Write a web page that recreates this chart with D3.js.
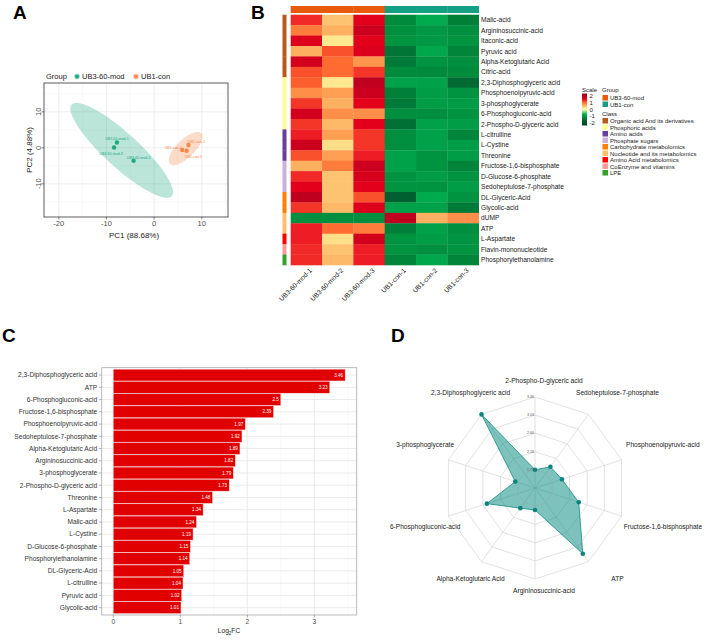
<!DOCTYPE html>
<meta charset="utf-8">
<script src="https://d3js.org/d3.v7.min.js"></script>
<style>
  body { margin: 0; background: #fff; }
  text { font-family: "Liberation Sans", Arial, Helvetica, sans-serif; }
</style>
<body>
<svg id="fig" width="710" height="640"></svg>
<script>

// ---------- data ----------
// A: PCA scores
const pcaGroups = ["UB3-60-mod", "UB1-con"];
const pcaSamples = ["UB3-60-mod-1", "UB3-60-mod-2", "UB3-60-mod-3", "UB1-con-1", "UB1-con-2", "UB1-con-3"];
const pcaSampleGroup = [0, 0, 0, 1, 1, 1];
const pc1 = [-7.8, -4.3, -8.4, 7.2, 5.9, 6.8];
const pc2 = [1.5, -3.6, 0.1, 0.8, -0.6, -0.8];
// confidence ellipses: centre, first and second semi-axis (data units)
const ellCenter = [[-6.8, -0.7], [6.6, -0.2]];
const ellAxisA = [[-10.5, 12.7], [3.3, 4.25]];
const ellAxisB = [[2.4, 3.5], [1.3, -1.8]];

// B: heatmap (row z-scores)
const heatSamples = ["UB3-60-mod-1", "UB3-60-mod-2", "UB3-60-mod-3", "UB1-con-1", "UB1-con-2", "UB1-con-3"];
const heatSampleGroup = [0, 0, 0, 1, 1, 1];
const metabolites = ["Malic-acid", "Argininosuccinic-acid", "Itaconic-acid", "Pyruvic acid", "Alpha-Ketoglutaric Acid",
  "Citric-acid", "2,3-Diphosphoglyceric acid", "Phosphoenolpyruvic-acid", "3-phosphoglycerate", "6-Phosphogluconic-acid",
  "2-Phospho-D-glyceric acid", "L-citrulline", "L-Cystine", "Threonine", "Fructose-1,6-bisphosphate",
  "D-Glucose-6-phosphate", "Sedoheptulose-7-phosphate", "DL-Glyceric-Acid", "Glycolic-acid", "dUMP", "ATP",
  "L-Aspartate", "Flavin-mononucleotide", "Phosphorylethanolamine"];
const zScores = [
  [1.15, 0.4, 1.3, -1.0, -0.65, -1.1],
  [0.8, 0.5, 1.5, -0.95, -0.85, -0.95],
  [1.35, 0.2, 1.3, -0.9, -0.85, -0.9],
  [0.5, 1.0, 1.35, -1.2, -0.7, -1.05],
  [1.45, 0.9, 0.65, -1.15, -0.9, -0.95],
  [1.0, 0.9, 1.1, -1.0, -1.0, -1.0],
  [0.95, 0.2, 1.6, -0.75, -0.75, -1.3],
  [0.7, 0.6, 1.5, -1.1, -0.8, -0.9],
  [1.1, 0.5, 1.3, -1.15, -0.8, -0.8],
  [1.45, 0.7, 0.7, -0.95, -0.95, -0.9],
  [1.1, 0.45, 1.3, -1.25, -0.75, -0.8],
  [1.2, 0.6, 1.1, -0.95, -0.75, -1.05],
  [1.5, 0.25, 1.1, -0.95, -0.75, -0.8],
  [1.0, 0.6, 1.2, -0.75, -0.9, -0.8],
  [0.5, 0.8, 1.5, -0.75, -0.9, -1.05],
  [1.15, 0.4, 1.4, -0.9, -0.8, -0.9],
  [1.3, 0.4, 1.3, -0.9, -0.9, -0.8],
  [1.6, 0.4, 1.0, -1.4, -0.65, -0.9],
  [1.1, 0.45, 1.35, -0.75, -0.75, -1.15],
  [-0.95, -0.95, -0.95, 1.6, 0.5, 0.7],
  [1.2, 0.9, 0.8, -1.1, -0.75, -0.95],
  [1.2, 0.25, 1.45, -0.9, -0.8, -0.9],
  [1.15, 0.4, 1.2, -0.9, -0.95, -0.9],
  [1.15, 0.45, 1.2, -1.05, -0.7, -1.05]
];
const classNames = ["Organic acid And its derivatives", "Phosphoric acids", "Amino acids", "Phosphate sugars",
  "Carbohydrate metabolomics", "Nucleotide and its metabolomics", "Amino Acid metabolomics",
  "CoEnzyme and vitamins", "LPE"];
const metaboliteClass = [0, 0, 0, 0, 0, 0, 1, 1, 1, 1, 1, 2, 2, 2, 3, 3, 3, 4, 4, 5, 5, 6, 7, 8];
const scaleTicks = [2, 1, 0, -1, -2];

// C: log2 fold change
const fcNames = ["2,3-Diphosphoglyceric acid", "ATP", "6-Phosphogluconic-acid", "Fructose-1,6-bisphosphate",
  "Phosphoenolpyruvic-acid", "Sedoheptulose-7-phosphate", "Alpha-Ketoglutaric Acid", "Argininosuccinic-acid",
  "3-phosphoglycerate", "2-Phospho-D-glyceric acid", "Threonine", "L-Aspartate", "Malic-acid", "L-Cystine",
  "D-Glucose-6-phosphate", "Phosphorylethanolamine", "DL-Glyceric-Acid", "L-citrulline", "Pyruvic acid", "Glycolic-acid"];
const fcValues = [3.46, 3.23, 2.5, 2.39, 1.97, 1.92, 1.89, 1.82, 1.79, 1.73, 1.48, 1.34, 1.24, 1.19, 1.15, 1.14,
  1.05, 1.04, 1.02, 1.01];
const fcTicks = [0, 1, 2, 3];

// D: radar (clockwise from top)
const radarNames = ["2-Phospho-D-glyceric acid", "Sedoheptulose-7-phosphate", "Phosphoenolpyruvic-acid",
  "Fructose-1,6-bisphosphate", "ATP", "Argininosuccinic-acid", "Alpha-Ketoglutaric Acid",
  "6-Phosphogluconic-acid", "3-phosphoglycerate", "2,3-Diphosphoglyceric acid"];
const radarValues = [1.73, 1.92, 1.97, 2.39, 3.23, 1.82, 1.89, 2.5, 1.79, 3.46];
const radarTicks = [1.73, 2.16, 2.60, 3.03, 3.46];

// ---------- drawing ----------
const svg = d3.select("#fig");
const txt = "#1a1a1a";

// panel letters
[["A", 13, 19], ["B", 251, 19], ["C", 2, 342], ["D", 391, 342]].forEach(function(p) {
  svg.append("text").attr("x", p[1]).attr("y", p[2]).text(p[0])
    .attr("font-size", 19).attr("font-weight", "bold").attr("fill", "#000");
});

// ===== A: PCA =====
const pcaCol = ["#1fa982", "#f5884a"];
const gA = svg.append("g");
const ax = d3.scaleLinear().domain([-23.1, 15.5]).range([44, 228]);
const ay = d3.scaleLinear().domain([-19.2, 18]).range([217, 83]);

[-15, -5, 5, 15].forEach(function(v) {
  gA.append("line").attr("x1", ax(v)).attr("x2", ax(v)).attr("y1", 83).attr("y2", 217)
    .attr("stroke", "#f3f3f3").attr("stroke-width", 0.5);
  gA.append("line").attr("y1", ay(v)).attr("y2", ay(v)).attr("x1", 44).attr("x2", 228)
    .attr("stroke", "#f3f3f3").attr("stroke-width", 0.5);
});
[-20, -10, 0, 10].forEach(function(v) {
  gA.append("line").attr("x1", ax(v)).attr("x2", ax(v)).attr("y1", 83).attr("y2", 217)
    .attr("stroke", "#e6e6e6").attr("stroke-width", 0.7);
});
[-10, 0, 10].forEach(function(v) {
  gA.append("line").attr("y1", ay(v)).attr("y2", ay(v)).attr("x1", 44).attr("x2", 228)
    .attr("stroke", "#e6e6e6").attr("stroke-width", 0.7);
});

// ellipses
pcaGroups.forEach(function(g, i) {
  const c = ellCenter[i], u = ellAxisA[i], v = ellAxisB[i];
  const pts = d3.range(0, 2 * Math.PI, Math.PI / 60).map(function(t) {
    return [ax(c[0] + u[0] * Math.cos(t) + v[0] * Math.sin(t)), ay(c[1] + u[1] * Math.cos(t) + v[1] * Math.sin(t))];
  });
  gA.append("path").attr("d", d3.line().curve(d3.curveLinearClosed)(pts))
    .attr("fill", pcaCol[i]).attr("fill-opacity", 0.3).attr("stroke", "none");
});

// points + labels
const pcaNudge = [[0, -4], [5, -3.5], [-3, 6], [8, -3], [-9, -2.5], [7, 6]];
pcaSamples.forEach(function(s, i) {
  const col = pcaCol[pcaSampleGroup[i]];
  gA.append("circle").attr("cx", ax(pc1[i])).attr("cy", ay(pc2[i])).attr("r", 2.2).attr("fill", col);
  gA.append("text").attr("x", ax(pc1[i]) + pcaNudge[i][0]).attr("y", ay(pc2[i]) + pcaNudge[i][1] + 1.2)
    .attr("text-anchor", "middle").attr("font-size", 3.6).attr("fill", col).text(s);
});

gA.append("rect").attr("x", 44).attr("y", 83).attr("width", 184).attr("height", 134)
  .attr("fill", "none").attr("stroke", "#333").attr("stroke-width", 0.8);

// axes
[-20, -10, 0, 10].forEach(function(v) {
  gA.append("line").attr("x1", ax(v)).attr("x2", ax(v)).attr("y1", 217).attr("y2", 219.5).attr("stroke", "#333").attr("stroke-width", 0.6);
  gA.append("text").attr("x", ax(v)).attr("y", 226).attr("text-anchor", "middle")
    .attr("font-size", 7.5).attr("fill", "#4d4d4d").text(v);
});
[-10, 0, 10].forEach(function(v) {
  gA.append("line").attr("x1", 41.5).attr("x2", 44).attr("y1", ay(v)).attr("y2", ay(v)).attr("stroke", "#333").attr("stroke-width", 0.6);
  gA.append("text").attr("transform", "translate(40.5," + ay(v) + ") rotate(-90)").attr("text-anchor", "middle")
    .attr("font-size", 7.5).attr("fill", "#4d4d4d").text(v);
});
gA.append("text").attr("x", 134).attr("y", 238).attr("text-anchor", "middle").attr("font-size", 8)
  .attr("fill", txt).text("PC1 (88.68%)");
gA.append("text").attr("transform", "translate(32,150) rotate(-90)").attr("text-anchor", "middle").attr("font-size", 8)
  .attr("fill", txt).text("PC2 (4.88%)");

// legend
gA.append("text").attr("x", 46).attr("y", 79).attr("font-size", 7.5).attr("fill", txt).text("Group");
const legX = [77, 136];
pcaGroups.forEach(function(g, i) {
  gA.append("circle").attr("cx", legX[i]).attr("cy", 76.5).attr("r", 3).attr("fill", pcaCol[i]).attr("fill-opacity", 0.35);
  gA.append("circle").attr("cx", legX[i]).attr("cy", 76.5).attr("r", 2).attr("fill", pcaCol[i]);
  gA.append("text").attr("x", legX[i] + 5).attr("y", 79).attr("font-size", 7.5).attr("fill", txt).text(g);
});

// ===== B: heatmap =====
const gB = svg.append("g");
const heatStops = [-2, -1.4, -1, -0.6, 0, 0.2, 0.5, 0.9, 1.2, 1.3, 1.6, 2];
const heatColors = ["#00441b", "#006030", "#008a3c", "#00b050", "#ffffb2", "#fee890", "#fdb060", "#ff6b30",
  "#ee1c25", "#e3001b", "#c0001f", "#99001f"];
const heatColor = d3.scaleLinear().domain(heatStops).range(heatColors).clamp(true);
const groupCol = ["#e8590c", "#13a085"];
const classCol = ["#b85a1f", "#ffff99", "#6a3d9a", "#cab2d6", "#ff7f00", "#fdbf6f", "#ff0000", "#fb9a99", "#33a02c"];

const hx = d3.scaleBand().domain(heatSamples).range([290.7, 478.7]);
const hy = d3.scaleBand().domain(metabolites).range([14.7, 265]);

metabolites.forEach(function(m, r) {
  heatSamples.forEach(function(s, c) {
    gB.append("rect").attr("x", hx(s)).attr("y", hy(m)).attr("width", hx.bandwidth() + 0.3).attr("height", hy.bandwidth() + 0.3)
      .attr("fill", heatColor(zScores[r][c]));
  });
  gB.append("rect").attr("x", 282.5).attr("y", hy(m)).attr("width", 4).attr("height", hy.bandwidth() + 0.3)
    .attr("fill", classCol[metaboliteClass[r]]);
  gB.append("text").attr("x", 481).attr("y", hy(m) + hy.bandwidth() / 2 + 2.3).attr("font-size", 6.6)
    .attr("fill", txt).text(m);
});
heatSamples.forEach(function(s, c) {
  gB.append("rect").attr("x", hx(s)).attr("y", 6).attr("width", hx.bandwidth() + 0.3).attr("height", 7)
    .attr("fill", groupCol[heatSampleGroup[c]]);
  const cx = hx(s) + hx.bandwidth() / 2 + 6;
  gB.append("text").attr("transform", "translate(" + cx + ",271) rotate(-45)").attr("text-anchor", "end")
    .attr("font-size", 6.6).attr("fill", txt).text(s);
});

// heatmap legend
const defs = svg.append("defs");
const grad = defs.append("linearGradient").attr("id", "hgrad").attr("x1", 0).attr("x2", 0).attr("y1", 0).attr("y2", 1);
heatStops.slice().reverse().forEach(function(v) {
  grad.append("stop").attr("offset", (2 - v) / 4).attr("stop-color", heatColor(v));
});
gB.append("text").attr("x", 582).attr("y", 92).attr("font-size", 6).attr("fill", txt).text("Scale");
gB.append("text").attr("x", 602).attr("y", 92).attr("font-size", 6).attr("fill", txt).text("Group");
const sy = d3.scaleLinear().domain([2, -2]).range([96, 123]);
gB.append("rect").attr("x", 582).attr("y", 93.5).attr("width", 5).attr("height", 32).attr("fill", "url(#hgrad)");
scaleTicks.forEach(function(v) {
  gB.append("text").attr("x", 589.5).attr("y", sy(v) + 2).attr("font-size", 6).attr("fill", txt).text(v);
});
pcaGroups.forEach(function(g, i) {
  gB.append("rect").attr("x", 602.5).attr("y", 95 + i * 6.5).attr("width", 5.5).attr("height", 5.5).attr("fill", groupCol[i]);
  gB.append("text").attr("x", 610).attr("y", 100 + i * 6.5).attr("font-size", 6).attr("fill", txt).text(g);
});
gB.append("text").attr("x", 602).attr("y", 116).attr("font-size", 6).attr("fill", txt).text("Class");
classNames.forEach(function(c, i) {
  gB.append("rect").attr("x", 602.5).attr("y", 118 + i * 6.5).attr("width", 5.5).attr("height", 5.5).attr("fill", classCol[i]);
  gB.append("text").attr("x", 610).attr("y", 123 + i * 6.5).attr("font-size", 6).attr("fill", txt).text(c);
});

// ===== C: bar chart =====
const gC = svg.append("g");
const cx0 = 101.7, cx1 = 356.7, cy0 = 367.7, cy1 = 615;
const bx = d3.scaleLinear().domain([-0.173, 3.633]).range([cx0, cx1]);
const by = d3.scaleBand().domain(fcNames).range([cy0 + 1.5, cy1 - 1.5]).paddingInner(0.04);

[0.5, 1.5, 2.5, 3.5].forEach(function(v) {
  gC.append("line").attr("x1", bx(v)).attr("x2", bx(v)).attr("y1", cy0).attr("y2", cy1).attr("stroke", "#f2f2f2").attr("stroke-width", 0.5);
});
fcTicks.forEach(function(v) {
  gC.append("line").attr("x1", bx(v)).attr("x2", bx(v)).attr("y1", cy0).attr("y2", cy1).attr("stroke", "#e6e6e6").attr("stroke-width", 0.8);
});
fcNames.forEach(function(n) {
  gC.append("line").attr("x1", cx0).attr("x2", cx1).attr("y1", by(n) + by.bandwidth() / 2).attr("y2", by(n) + by.bandwidth() / 2)
    .attr("stroke", "#e6e6e6").attr("stroke-width", 0.8);
});

fcNames.forEach(function(n, i) {
  gC.append("rect").attr("x", bx(0)).attr("y", by(n)).attr("width", bx(fcValues[i]) - bx(0)).attr("height", by.bandwidth())
    .attr("fill", "#e10000").attr("stroke", "#f6d6d6").attr("stroke-width", 0.4);
  gC.append("text").attr("x", bx(fcValues[i]) - 2).attr("y", by(n) + by.bandwidth() / 2 + 1.6).attr("text-anchor", "end")
    .attr("font-size", 4.6).attr("fill", "#fff").text(fcValues[i]);
  gC.append("line").attr("x1", cx0 - 2.5).attr("x2", cx0).attr("y1", by(n) + by.bandwidth() / 2).attr("y2", by(n) + by.bandwidth() / 2)
    .attr("stroke", "#555").attr("stroke-width", 0.5);
  gC.append("text").attr("x", cx0 - 4.5).attr("y", by(n) + by.bandwidth() / 2 + 2.3).attr("text-anchor", "end")
    .attr("font-size", 6.6).attr("fill", "#333").text(n);
});

gC.append("rect").attr("x", cx0).attr("y", cy0).attr("width", cx1 - cx0).attr("height", cy1 - cy0)
  .attr("fill", "none").attr("stroke", "#aaa").attr("stroke-width", 0.8);
fcTicks.forEach(function(v) {
  gC.append("line").attr("x1", bx(v)).attr("x2", bx(v)).attr("y1", cy1).attr("y2", cy1 + 2.5).attr("stroke", "#555").attr("stroke-width", 0.5);
  gC.append("text").attr("x", bx(v)).attr("y", 624).attr("text-anchor", "middle").attr("font-size", 6.6)
    .attr("fill", "#4d4d4d").text(v);
});
const lt = gC.append("text").attr("x", 229).attr("y", 633).attr("text-anchor", "middle").attr("font-size", 6.6).attr("fill", txt);
lt.append("tspan").text("Log");
lt.append("tspan").attr("font-size", 4.5).attr("dy", 1.5).text("2");
lt.append("tspan").attr("dy", -1.5).text("FC");

// ===== D: radar =====
const gD = svg.append("g");
const rcx = 535, rcy = 488, R = 91;
const rmin = d3.min(radarValues), rmax = d3.max(radarValues);
const rr = d3.scaleLinear().domain([rmin - (rmax - rmin) / 4, rmax]).range([0, R]);
const nAx = radarNames.length;
const ang = function(i) { return i * 2 * Math.PI / nAx; };
const pt = function(i, r) { return [rcx + r * Math.sin(ang(i)), rcy - r * Math.cos(ang(i))]; };

radarTicks.forEach(function(t) {
  gD.append("path").attr("d", d3.line().curve(d3.curveLinearClosed)(d3.range(nAx).map(function(i) { return pt(i, rr(t)); })))
    .attr("fill", "none").attr("stroke", "#cfcfcf").attr("stroke-width", 0.6);
});
d3.range(nAx).forEach(function(i) {
  const p = pt(i, R);
  gD.append("line").attr("x1", rcx).attr("y1", rcy).attr("x2", p[0]).attr("y2", p[1]).attr("stroke", "#cfcfcf").attr("stroke-width", 0.6);
});

const poly = radarValues.map(function(v, i) { return pt(i, rr(v)); });
gD.append("path").attr("d", d3.line().curve(d3.curveLinearClosed)(poly))
  .attr("fill", "#138f86").attr("fill-opacity", 0.55).attr("stroke", "#138f86").attr("stroke-width", 0.8);
// inner ring drawn over fill
gD.append("path").attr("d", d3.line().curve(d3.curveLinearClosed)(d3.range(nAx).map(function(i) { return pt(i, rr(radarTicks[0])); })))
  .attr("fill", "none").attr("stroke", "#9fbdbb").attr("stroke-width", 0.5);
poly.forEach(function(p) {
  gD.append("circle").attr("cx", p[0]).attr("cy", p[1]).attr("r", 2.3).attr("fill", "#0b857c");
});

radarTicks.forEach(function(t) {
  gD.append("text").attr("x", rcx - 1).attr("y", rcy - rr(t) + 1.3).attr("text-anchor", "end")
    .attr("font-size", 3.6).attr("fill", "#555").text(t.toFixed(2));
});

radarNames.forEach(function(n, i) {
  const s = Math.sin(ang(i)), c = Math.cos(ang(i));
  const rl = 105 + 30 * s * s;
  gD.append("text").attr("x", rcx + 9 + 125 * s).attr("y", rcy - 2.5 - rl * c + 2.4).attr("text-anchor", "middle")
    .attr("font-size", 6.6).attr("fill", txt).text(n);
});

</script>
</body>
